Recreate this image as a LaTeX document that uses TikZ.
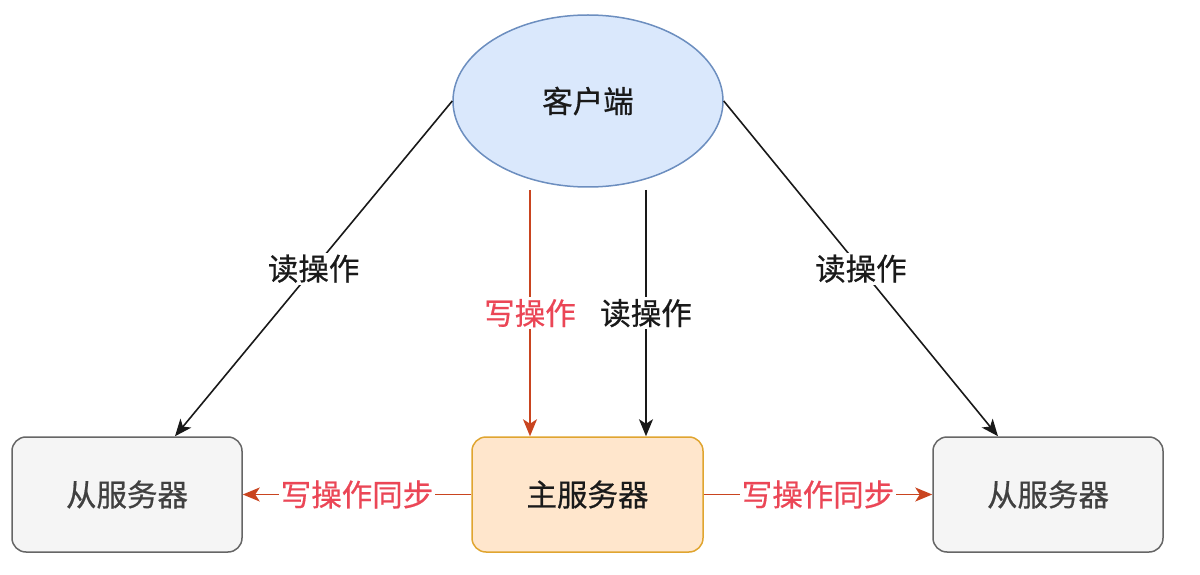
\documentclass[tikz,border=0pt]{standalone}
\usepackage{fontspec}
\setmainfont{Noto Sans CJK SC}[FakeBold=0.6]
\usetikzlibrary{shapes.geometric,arrows.meta}
\definecolor{cfill}{HTML}{DAE8FC}
\definecolor{cdraw}{HTML}{6C8EBF}
\definecolor{mfill}{HTML}{FFE6CC}
\definecolor{mdraw}{HTML}{E0A530}
\definecolor{sfill}{HTML}{F5F5F5}
\definecolor{sdraw}{HTML}{666666}
\definecolor{redtxt}{HTML}{EB4656}
\definecolor{redline}{HTML}{C9441F}
\definecolor{txt}{HTML}{1A1A1A}
\tikzset{
  x=1pt,y=1pt,
  every node/.style={font=\fontsize{30.5}{33}\selectfont, text=txt},
  client/.style={ellipse, draw=cdraw, fill=cfill, line width=1.5pt, minimum width=270pt, minimum height=172pt, inner sep=0pt},
  master/.style={rectangle, rounded corners=14pt, draw=mdraw, fill=mfill, line width=1.5pt, minimum width=231pt, minimum height=115pt},
  slave/.style={rectangle, rounded corners=14pt, draw=sdraw, fill=sfill, line width=1.5pt, minimum width=230pt, minimum height=115pt, text=black!75},
  readarr/.style={draw=black!90, line width=1.6pt, -{Stealth[length=17pt,width=14pt,inset=4.5pt]}},
  writearr/.style={draw=redline, line width=1.6pt, -{Stealth[length=17pt,width=14pt,inset=4.5pt]}},
  blabel/.style={fill=white, inner sep=2pt, text=txt},
  rlabel/.style={fill=white, inner sep=2pt, text=redtxt},
}
\begin{document}
\begin{tikzpicture}
\useasboundingbox (0,0) rectangle (1200,574);
\node[client] (client) at (588,473) {客户端};
\node[slave] (ls) at (127,79.5) {从服务器};
\node[master] (ms) at (587.5,79.5) {主服务器};
\node[slave] (rs) at (1048,79.5) {从服务器};
\coordinate (ws) at (530,384);
\coordinate (rd) at (646,384);
% diagonal reads
\draw[readarr] (client.west) -- node[blabel] {读操作} ([xshift=48pt]ls.north);
\draw[readarr] (client.east) -- node[blabel] {读操作} ([xshift=-50pt]rs.north);
% vertical
\draw[writearr] (ws) -- node[rlabel, pos=0.5] {写操作} (ws |- ms.north);
\draw[readarr] (rd) -- node[blabel, pos=0.5] {读操作} (rd |- ms.north);
% sync
\draw[writearr] (ms.west) -- node[rlabel] {写操作同步} (ls.east);
\draw[writearr] (ms.east) -- node[rlabel] {写操作同步} (rs.west);
\end{tikzpicture}
\end{document}
